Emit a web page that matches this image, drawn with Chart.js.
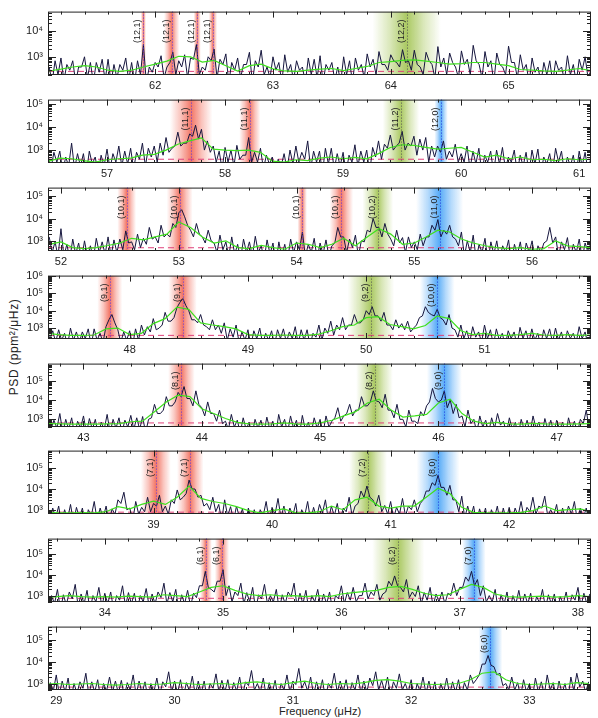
<!DOCTYPE html>
<html>
<head>
<meta charset="utf-8">
<script src="https://cdn.jsdelivr.net/npm/chart.js@4.4.1/dist/chart.umd.min.js"></script>
<style>
  body { margin: 0; background: #fff; width: 598px; height: 718px; position: relative; overflow: hidden;
         font-family: "Liberation Sans", Arial, sans-serif; }
  canvas { position: absolute; left: 0; }
  #ylab { position: absolute; left: 14px; top: 347px; transform: translate(-50%, -50%) rotate(-90deg);
          font-size: 12px; letter-spacing: 0.6px; white-space: nowrap; color: #222; }
  #xlab { position: absolute; left: 320px; top: 711px; transform: translate(-50%, -50%);
          font-size: 11px; white-space: nowrap; color: #222; }
</style>
</head>
<body>
<div id="ylab">PSD (ppm²/μHz)</div>
<div id="xlab">Frequency (μHz)</div>
<script>
/* ---- data (panel 1 = top, highest frequencies) ---- */
const freqRanges = [[61.09, 65.70], [56.50, 61.10], [51.89, 56.50], [47.31, 51.90],
                    [42.70, 47.29], [38.11, 42.69], [33.52, 38.11], [28.93, 33.52]];
const psdLimits = [[195, 58000], [275, 155000], [350, 245000], [235, 1050000],
                   [400, 780000], [620, 720000], [490, 580000], [500, 440000]];
const noiseLevel = [270, 400, 490, 380, 650, 760, 740, 680];

// raw spectrum: psdN on bins start + k*0.05, psdNMid on the bins halfway between
const spectrumStart = [61.10, 56.50, 51.90, 47.30, 42.70, 38.10, 33.50, 28.90];
const binWidth = 0.05;
const psd1 = [400,700,900,500,700,400,1000,600,600,800, 800,500,500,900,600,700,3000,400,600,1100,
  400,1500,700,1200,900,3000,400,1000,2000,800, 1300,600,900,500,1500,700,1800,400,1000,600,
  1200,500,700,400,900,800,1100,500,600,400, 1000,700,900,500,1300,800,1600,500,1200,600,
  1900,700,1800,400,1500,500,2500,900,1400,400, 1700,800,2800,500,1600,700,1400,400,2600,600,
  1200,500,900,400,600,700,700,400,1100,500, 800,1000,300];
const psd1Mid = [100,200,120,300,100,400,150,100,250,120, 100,150,300,120,100,200,100,250,400,150,
  600,200,400,150,800,200,300,700,150,500, 100,300,150,500,100,400,200,150,300,100,
  250,120,300,100,200,150,100,300,120,100, 200,100,300,150,400,200,500,300,700,400,
  600,300,500,200,700,150,400,200,600,150, 500,200,700,150,400,100,500,200,600,150,
  300,100,250,100,200,100,300,120,200,100, 300,150];
const psd2 = [600,800,900,500,2000,700,700,900,500,600, 1100,700,1500,900,1200,800,2000,1200,1500,2000,
  3500,1200,6000,2000,5000,12000,8000,2500,1500,900, 1300,1000,1600,600,3500,800,1200,600,500,400,
  700,1000,1500,800,2500,900,900,1200,1200,700, 800,600,1700,900,1000,1300,2500,1800,4500,1500,
  6500,2000,4000,3000,3500,1500,1500,2500,900,1800, 700,1500,900,1200,600,900,1000,1300,500,1000,
  600,800,1000,1100,500,700,1200,900,500,600, 900,800,500];
const psd2Mid = [150,300,120,200,150,200,100,250,100,200, 150,300,200,250,150,400,200,500,300,600,
  800,1500,1500,2000,4000,3000,1000,800,300,150, 300,200,400,600,300,300,150,250,100,200,
  150,250,300,400,150,300,100,250,150,200, 100,300,200,300,100,500,400,1200,1000,2000,
  1000,1500,600,1000,300,500,800,400,500,300, 300,150,250,100,300,100,250,150,300,100,
  200,100,250,100,250,120,300,100,200,100, 200,120];
const psd3 = [1500,900,3500,700,1200,800,1000,600,1300,900, 1500,1100,1200,2800,900,2000,1300,4000,1500,5000,
  2000,6000,18000,12000,3000,6000,1500,3000,800,1800, 900,1500,700,1200,900,1600,600,1100,800,900,
  700,1200,900,2500,700,1300,800,1100,600,4000, 1500,1200,1800,1000,3000,10000,4000,6000,1200,3000,
  1400,1500,900,2000,1500,5000,9000,3000,5000,1200, 2500,1000,1800,700,1300,900,1000,600,1100,700,
  900,800,1000,600,800,4000,1500,900,1400,700, 1200,800,900];
const psd3Mid = [300,200,200,150,250,150,200,150,300,250, 200,300,400,800,400,500,700,1200,800,1500,
  1500,4000,25000,5000,1500,2000,800,1000,300,400, 200,250,150,300,200,300,150,250,100,200,
  150,300,400,200,300,150,250,200,800,1500, 300,500,200,900,2500,4000,1500,2000,600,800,
  300,500,400,600,1500,3000,1500,2000,1500,600, 200,300,150,300,120,250,150,300,100,250,
  120,300,150,300,1000,800,200,400,150,300, 150,300];
const psd4 = [1500,700,800,500,1000,600,600,900,900,500, 1200,6000,800,600,700,900,1500,1200,3500,1000,
  8000,2500,15000,50000,10000,3000,6000,1200,3000,1500, 2000,900,1500,600,800,700,1000,500,700,800,
  900,600,1200,800,800,500,1500,1000,2500,1500, 4000,1500,6000,2000,10000,17000,5000,8000,1500,3000,
  1800,2500,1000,4000,17000,6000,12000,3000,6000,800, 1500,700,1200,600,1500,800,900,500,700,600,
  1100,700,900,500,800,900,1000,600,700,500, 1200,600,600];
const psd4Mid = [200,150,200,100,200,150,250,100,200,150, 3000,2000,150,200,100,200,400,600,800,1500,
  2500,4000,30000,20000,3000,2000,1500,800,800,500, 200,300,150,200,100,250,120,200,100,250,
  150,250,120,200,100,300,200,500,400,800, 800,1500,2000,3000,6000,5000,2500,1500,800,1000,
  800,600,1500,5000,8000,5000,4000,1500,1000,300, 250,150,300,150,250,100,200,100,250,100,
  250,150,200,100,250,150,200,100,250,150, 250,100];
const psd5 = [1500,900,2000,1000,1200,800,1500,1100,1000,700, 1800,1000,1200,900,1600,1200,1400,1000,6000,2000,
  15000,5000,25000,50000,12000,30000,4000,8000,2000,3000, 800,1800,900,1200,700,1000,900,1300,800,1800,
  1000,1500,900,1600,700,1200,1000,1500,800,4000, 1500,6000,3000,15000,5000,30000,8000,20000,3000,6000,
  1000,3000,800,2500,5000,40000,8000,30000,10000,6000, 1500,3000,1000,1500,900,1200,2000,800,1200,700,
  1000,900,1500,700,1100,900,900,700,1200,800, 1000,3000,800];
const psd5Mid = [300,350,200,300,150,350,200,300,150,300, 200,350,200,400,300,300,200,1200,2000,3000,
  5000,8000,15000,12000,5000,6000,1500,2000,800,600, 300,400,200,300,150,350,200,300,150,400,
  200,350,150,300,200,350,200,400,1200,800, 2000,1500,3000,5000,8000,9000,4000,3000,1200,1000,
  400,800,600,1500,8000,12000,10000,4000,2000,1200, 400,600,200,400,200,350,500,200,300,150,
  300,200,350,150,300,200,300,150,300,200, 600,300];
const psd6 = [2000,1200,1500,1000,1800,1300,1200,1000,2500,1200, 1500,1100,3000,7000,1200,2500,1300,4000,2000,5000,
  1500,3000,9000,4000,27000,10000,5000,2000,4000,1800, 3000,1400,1500,1100,1200,1000,1000,2500,1300,3500,
  1500,1200,2000,1000,2500,1300,1800,3000,1500,2000, 1200,4000,1500,8000,14000,3000,5000,1600,2500,1300,
  3500,1500,3000,2000,8000,20000,46000,12000,15000,3000, 4500,1500,1500,1100,1200,1000,1500,1200,1300,1200,
  2500,1300,4000,1500,4500,1000,1800,1200,1500,2500, 1200,1200,1000];
const psd6Mid = [300,400,200,350,250,400,200,500,300,400, 250,600,2000,1000,300,600,800,800,1500,800,
  600,2000,3000,6000,10000,4000,1500,1000,800,300, 500,300,400,200,350,200,500,300,600,400,
  300,500,200,500,300,400,700,300,500,300, 800,500,2000,4000,4000,1500,800,600,400,600,
  500,1000,800,3000,8000,15000,12000,5000,3000,800, 400,400,200,350,200,400,200,350,300,500,
  400,800,600,1200,500,500,200,400,600,300, 400,200];
const psd7 = [1200,1000,2000,1100,1500,3500,1200,1800,1000,2500, 1300,1500,1000,3000,1400,1300,1000,2200,1200,1500,
  4000,1400,2000,1100,1800,1300,3000,15000,2000,5000, 18000,3000,1500,4000,1400,2500,1100,3500,1000,2000,
  1100,1500,4000,1300,1800,1000,2000,1200,1500,1000, 3000,1400,2500,1000,4000,1500,3500,1200,5000,9000,
  2500,6000,1500,3000,1400,2500,1200,1500,1300,4000, 2500,8000,15000,6000,3000,1000,2000,1100,1500,1000,
  1800,1200,1300,900,2000,1100,1200,900,1500,1100, 2500,1300,1200];
const psd7Mid = [200,400,200,350,700,300,400,200,500,300, 400,200,600,300,400,200,500,300,400,800,
  400,500,200,400,300,800,3000,2500,1500,5000, 1000,500,1000,400,500,200,700,400,500,200,
  400,900,300,400,200,500,300,400,200,700, 400,600,500,1000,700,1000,600,1500,3000,3000,
  1500,800,900,400,600,300,500,400,1000,1000, 2500,5000,3000,1000,500,500,200,400,200,400,
  300,400,200,450,250,400,200,400,250,600, 300,400];
const psd8 = [1500,1100,2500,1300,1800,1000,1200,3000,1200,1500, 1000,2000,1300,1400,1100,2500,1300,1200,1000,1800,
  1200,3500,1300,1500,1100,2200,1300,1300,1000,2800, 1400,1500,1100,2000,1200,4000,1000,1800,1100,1400,
  1000,2500,1300,5000,1200,2000,1200,1500,1000,3000, 1300,1500,1100,2500,1300,1800,3500,1400,2000,1200,
  2800,1000,1500,1000,2000,1300,1200,1000,1800,1200, 1500,1100,2500,1500,8000,20000,6000,3000,1000,2000,
  1100,1500,1000,1800,1200,2500,1100,1300,1000,2000, 3000,1300,1200];
const psd8Mid = [250,450,300,400,200,350,600,300,400,200, 450,400,350,250,500,300,350,200,400,300,
  700,400,350,250,450,300,350,200,600,400, 400,250,450,300,800,500,400,250,350,200,
  500,400,900,600,450,300,400,200,600,400, 400,250,500,350,400,800,500,450,300,600,
  500,400,200,450,350,300,200,400,300,400, 250,500,1000,2500,8000,7000,2500,800,500,500,
  250,400,200,400,300,500,250,350,200,450, 700,400];

// smoothed spectrum, 0.1 uHz bins starting at smoothStart
const smoothStart = [61.1, 56.5, 51.9, 47.3, 42.7, 38.1, 33.5, 28.9];
const smoothStep = 0.1;
const smooth1 = [280,330,400,450,400,300,270,300,400,520, 680,1050,1000,620,720,450,280,450,520,340,
  280,270,300,330,350,290,350,420,600,650, 720,760,680,600,520,540,600,600,520,450, 320,300,280,270,300,350,290];
const smooth2 = [320,450,420,350,300,380,420,450,600,650, 1000,1800,2500,3400,1100,1000,950,1000,800,330,
  300,380,350,450,500,420,480,420,700,1300, 1700,1600,1300,1100,1200,1300,800,500,600,420, 500,380,400,350,420,380,400];
const smooth3 = [700,900,500,450,500,620,800,1300,1100,1500, 2000,7000,4000,1500,800,1000,500,450,620,500,
  420,800,700,500,700,1300,600,1500,3500,2000, 700,800,1500,3000,2500,1200,800,600,500,450, 500,420,450,1000,600,550,500];
const smooth4 = [500,420,380,380,400,900,1000,420,500,1800, 3500,16000,12000,2000,1500,1200,900,420,380,380,
  400,380,380,450,700,1200,1500,4000,4500,1600, 1200,900,1400,5000,3500,700,420,500,380,380, 420,500,400,380,420,380,400];
const smooth5 = [600,580,560,560,560,580,600,750,800,2500, 8000,18000,15000,3500,2000,1100,700,580,560,580,
  650,560,560,650,900,1500,2500,7000,11000,3000, 1300,1500,1800,7000,11000,2000,800,600,700,580, 560,620,580,560,560,580,600];
const smooth6 = [750,700,700,720,700,800,1400,1100,1800,2600, 1800,4000,14000,3500,2500,2000,1400,900,700,900,
  1100,700,700,800,1500,1000,3000,4000,1500,1200, 1500,1500,4000,11000,6000,1300,750,700,700,700, 750,900,1500,900,1000,1100,750];
const smooth7 = [800,900,1000,900,850,900,850,950,900,850, 1100,1000,900,1500,2500,3000,1800,1200,1000,1100,
  950,1000,900,1000,900,1200,1400,1600,1800,2500, 2800,2000,1300,1000,1100,2000,3500,2500,1200,900, 850,900,950,850,900,1000,900];
const smooth8 = [900,1000,900,950,1000,900,850,900,1000,900, 950,1100,1000,900,950,1000,900,1100,1200,1000,
  900,1100,1300,1000,900,1000,950,1100,1400,1500, 1300,1000,950,900,950,1000,1500,3000,3500,1500, 1000,900,950,1000,900,1100,1000];

// identified modes: frequency, fitted half-width, degree l, label (n,l)
const modeFreqs = [[61.90, 62.14, 62.357, 62.49, 64.136], [57.713, 58.21, 59.49, 59.83],
  [52.558, 53.008, 54.048, 54.38, 54.69, 55.215], [47.832, 48.448, 50.04, 50.60],
  [43.828, 45.46, 46.05], [39.02, 39.31, 40.81, 41.40], [34.855, 34.99, 36.48, 37.12], [32.67]];
const modeWidths = [[0.018, 0.065, 0.03, 0.035, 0.29], [0.18, 0.09, 0.155, 0.057],
  [0.08, 0.11, 0.04, 0.1, 0.13, 0.2], [0.105, 0.12, 0.196, 0.147],
  [0.113, 0.155, 0.148], [0.126, 0.112, 0.16, 0.18], [0.05, 0.06, 0.22, 0.1], [0.1]];
const modeDegrees = [[1, 1, 1, 1, 2], [1, 1, 2, 0], [1, 1, 1, 1, 2, 0], [1, 1, 2, 0],
  [1, 2, 0], [1, 1, 2, 0], [1, 1, 2, 0], [0]];
const modeLabels = [["(12,1)", "(12,1)", "(12,1)", "(12,1)", "(12,2)"], ["(11,1)", "(11,1)", "(11,2)", "(12,0)"],
  ["(10,1)", "(10,1)", "(10,1)", "(10,1)", "(10,2)", "(11,0)"], ["(9,1)", "(9,1)", "(9,2)", "(10,0)"],
  ["(8,1)", "(8,2)", "(9,0)"], ["(7,1)", "(7,1)", "(7,2)", "(8,0)"], ["(6,1)", "(6,1)", "(6,2)", "(7,0)"], ["(6,0)"]];

const spectra = [psd1, psd2, psd3, psd4, psd5, psd6, psd7, psd8];
const spectraMid = [psd1Mid, psd2Mid, psd3Mid, psd4Mid, psd5Mid, psd6Mid, psd7Mid, psd8Mid];
const smooths = [smooth1, smooth2, smooth3, smooth4, smooth5, smooth6, smooth7, smooth8];

/* ---- styling ---- */
const panelTops = [6, 94, 182, 270, 358, 445, 533, 621];
const plotH = 69;
const SUP = { 2: "²", 3: "³", 4: "⁴", 5: "⁵", 6: "⁶" };
const BAND_RGB = { 0: "45,150,245", 1: "240,85,65", 2: "150,188,60" };
const MARK_COLOR = { 0: "#2036d8", 1: "#5a3ae0", 2: "#555555" };
const FONT = "Liberation Sans, Arial, sans-serif";

/** shaded mode bands + dotted centre lines + labels */
const modesPlugin = {
  id: "modes",
  beforeDatasetsDraw(chart, args, opts) {
    const { ctx, chartArea: a, scales: { x } } = chart;
    ctx.save();
    ctx.beginPath(); ctx.rect(a.left, a.top, a.width, a.height); ctx.clip();
    opts.freqs.forEach((f, k) => {
      const c = x.getPixelForValue(f);
      const half = Math.max(2.5, x.getPixelForValue(f + opts.widths[k]) - c);
      const rgb = BAND_RGB[opts.degrees[k]];
      const g = ctx.createLinearGradient(c - half, 0, c + half, 0);
      g.addColorStop(0, `rgba(${rgb},0)`);
      g.addColorStop(0.25, `rgba(${rgb},0.35)`);
      g.addColorStop(0.5, `rgba(${rgb},0.8)`);
      g.addColorStop(0.75, `rgba(${rgb},0.35)`);
      g.addColorStop(1, `rgba(${rgb},0)`);
      ctx.fillStyle = g;
      ctx.fillRect(c - half, a.top, 2 * half, a.height);
    });
    ctx.restore();
  },
  afterDatasetsDraw(chart, args, opts) {
    const { ctx, chartArea: a, scales: { x } } = chart;
    ctx.save();
    opts.freqs.forEach((f, k) => {
      const c = Math.round(x.getPixelForValue(f)) + 0.5;
      ctx.strokeStyle = MARK_COLOR[opts.degrees[k]];
      ctx.lineWidth = 1;
      ctx.setLineDash([1, 2]);
      ctx.beginPath(); ctx.moveTo(c, a.top); ctx.lineTo(c, a.bottom); ctx.stroke();
      ctx.setLineDash([]);
      ctx.save();
      ctx.translate(c - 6, a.top + 8);
      ctx.rotate(-Math.PI / 2);
      ctx.font = "9px " + FONT;
      ctx.fillStyle = "#222";
      ctx.textAlign = "right";
      ctx.textBaseline = "middle";
      ctx.fillText(opts.labels[k], 0, 0);
      ctx.restore();
    });
    ctx.restore();
  }
};

/** IDL-like box with inward ticks on all four sides */
const framePlugin = {
  id: "frame",
  afterDraw(chart) {
    const { ctx, chartArea: a, scales: { x, y } } = chart;
    ctx.save();
    ctx.strokeStyle = "#222";
    ctx.lineWidth = 1;
    const seg = (x0, y0, x1, y1) => { ctx.beginPath(); ctx.moveTo(x0, y0); ctx.lineTo(x1, y1); ctx.stroke(); };
    for (let k = Math.ceil(x.min * 5); k <= Math.floor(x.max * 5); k++) {
      const px = Math.round(x.getPixelForValue(k / 5)) + 0.5;
      const len = k % 5 === 0 ? 6 : 3;
      seg(px, a.bottom, px, a.bottom - len);
      seg(px, a.top, px, a.top + len);
    }
    for (let e = Math.floor(Math.log10(y.min)); e <= Math.ceil(Math.log10(y.max)); e++) {
      for (let m = 1; m <= 9; m++) {
        const v = m * Math.pow(10, e);
        if (v < y.min || v > y.max) continue;
        const py = Math.round(y.getPixelForValue(v)) + 0.5;
        const len = m === 1 ? 8 : 4;
        seg(a.left, py, a.left + len, py);
        seg(a.right, py, a.right - len, py);
      }
    }
    ctx.strokeRect(a.left + 0.5, a.top + 0.5, a.right - a.left - 1, a.bottom - a.top - 1);
    ctx.restore();
  }
};

const decadeLabel = function (v) {
  const e = Math.log10(v);
  return Math.abs(e - Math.round(e)) < 1e-6 ? "10" + SUP[Math.round(e)] : "";
};

for (let p = 0; p < 8; p++) {
  const canvas = document.createElement("canvas");
  canvas.width = 598;
  canvas.height = 6 + plotH + 18;
  canvas.style.top = (panelTops[p] - 6) + "px";
  document.body.appendChild(canvas);

  // interleave the two bin sets into one spectrum
  const spec = [];
  spectra[p].forEach((v, k) => {
    spec.push({ x: spectrumStart[p] + k * binWidth, y: v });
    if (k < spectraMid[p].length) {
      spec.push({ x: spectrumStart[p] + binWidth / 2 + k * binWidth, y: spectraMid[p][k] });
    }
  });
  const smooth = smooths[p].map((v, k) => ({ x: smoothStart[p] + k * smoothStep, y: v }));
  const noise = [{ x: freqRanges[p][0], y: noiseLevel[p] }, { x: freqRanges[p][1], y: noiseLevel[p] }];

  new Chart(canvas, {
    type: "line",
    data: {
      datasets: [
        { data: smooth, borderColor: "#3fe01e", borderWidth: 1.2, pointRadius: 0 },
        { data: spec, borderColor: "#16163e", borderWidth: 1, pointRadius: 0 },
        { data: noise, borderColor: "#e0407a", borderWidth: 1, borderDash: [6, 4], pointRadius: 0 }
      ]
    },
    options: {
      responsive: false,
      animation: false,
      events: [],
      layout: { padding: { top: 6, right: 7, left: 0, bottom: 0 } },
      scales: {
        x: {
          type: "linear",
          min: freqRanges[p][0],
          max: freqRanges[p][1],
          grid: { display: false, drawTicks: false },
          border: { display: false },
          afterFit: s => { s.height = 18; },
          ticks: {
            stepSize: 1, includeBounds: false, autoSkip: false, maxRotation: 0, padding: 4,
            color: "#222", font: { family: FONT, size: 11 },
            callback: v => Number.isInteger(v) ? String(v) : ""
          }
        },
        y: {
          type: "logarithmic",
          min: psdLimits[p][0],
          max: psdLimits[p][1],
          grid: { display: false, drawTicks: false },
          border: { display: false },
          afterFit: s => { s.width = 48; },
          ticks: {
            autoSkip: false, padding: 5, color: "#222",
            font: { family: FONT, size: 11 },
            callback: decadeLabel
          }
        }
      },
      plugins: {
        legend: { display: false },
        tooltip: { enabled: false },
        modes: { freqs: modeFreqs[p], widths: modeWidths[p], degrees: modeDegrees[p], labels: modeLabels[p] }
      }
    },
    plugins: [modesPlugin, framePlugin]
  });
}
</script>
</body>
</html>
